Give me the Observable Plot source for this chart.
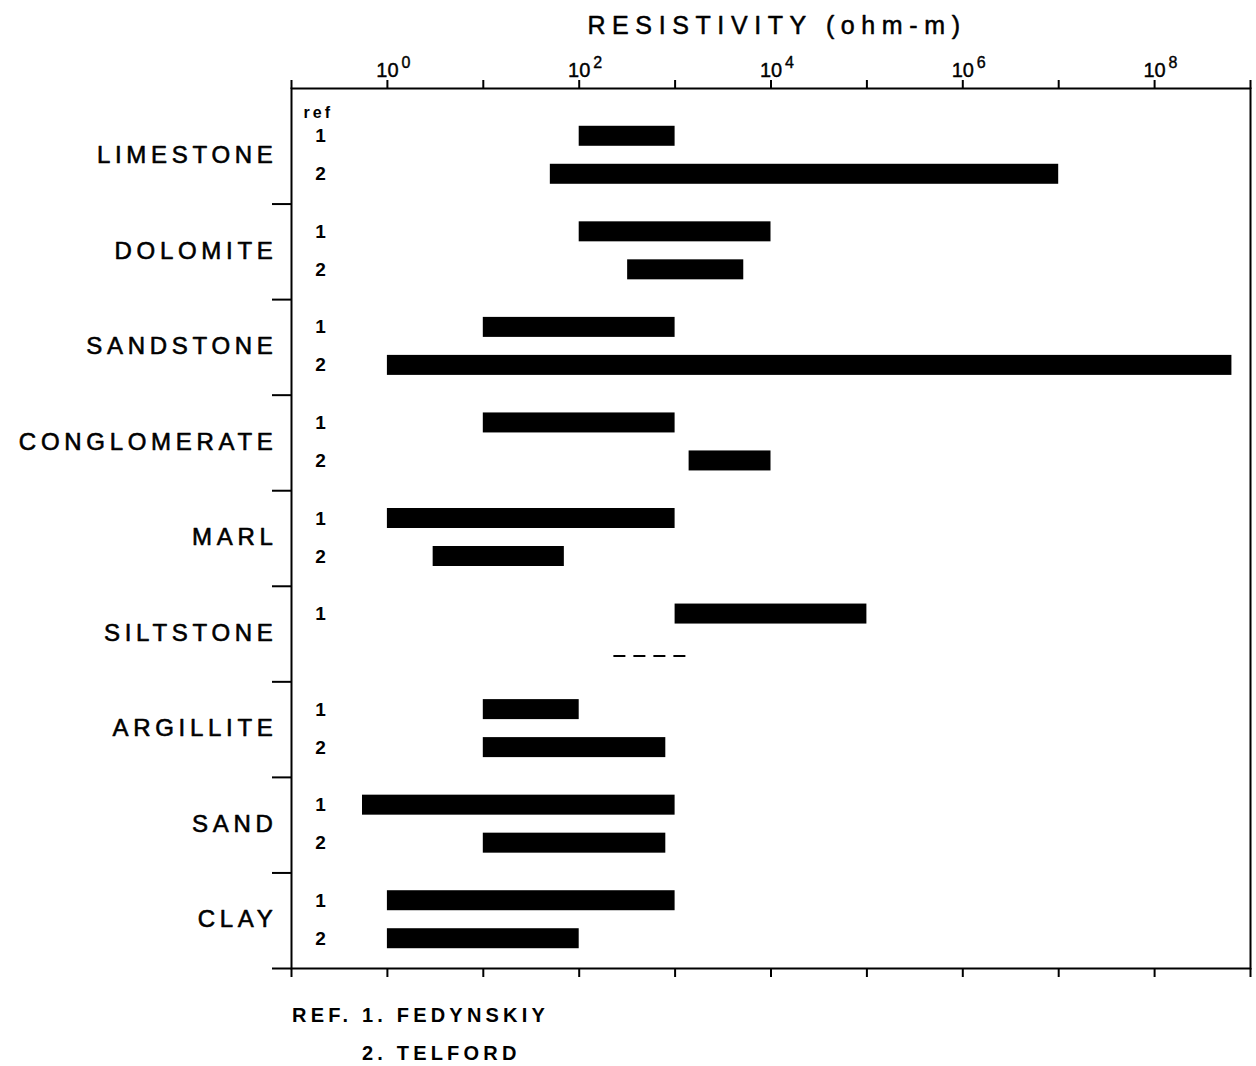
<!DOCTYPE html>
<html><head><meta charset="utf-8">
<script src="https://cdn.jsdelivr.net/npm/d3@7"></script>
<script src="https://cdn.jsdelivr.net/npm/@observablehq/plot@0.6"></script>
<style>
body{margin:0;background:#fff;}
#chart svg{display:block;}
#caption{font-family:"Liberation Sans",Arial,Helvetica,sans-serif;font-weight:bold;font-size:20px;letter-spacing:4.2px;line-height:38px;padding-top:6px;padding-left:292px;color:#000;}
#caption .ghost{visibility:hidden;}
</style></head>
<body><div id="chart"></div><div id="caption"></div>
<script>
// ---- data ----
const categories = ["LIMESTONE","DOLOMITE","SANDSTONE","CONGLOMERATE","MARL","SILTSTONE","ARGILLITE","SAND","CLAY"];
const ref1Low  = [100, 100, 10, 10, 1, 1000, 10, 0.55, 1];
const ref1High = [1000, 1e4, 1000, 1000, 1000, 1e5, 100, 1000, 1000];
const ref2Low  = [50, 320, 1, 1400, 3, null, 10, 10, 1];
const ref2High = [1e7, 5200, 6.4e8, 1e4, 70, null, 800, 800, 100];
const dashedCategory = ["SILTSTONE"];
const dashedLow = [230];
const dashedHigh = [1500];
const tickExponents = [-1,0,1,2,3,4,5,6,7,8,9];
const labelExponents = [0,2,4,6,8];
const titleText = "RESISTIVITY (ohm-m)";
const refHeader = "ref";
const captionPrefix = "REF.";
const refNames = ["FEDYNSKIY","TELFORD"];

// ---- tables ----
const rows = [];
categories.forEach((c,i)=>{
  rows.push({cat:c, ref:1, lo:ref1Low[i], hi:ref1High[i]});
  if (ref2Low[i] != null) rows.push({cat:c, ref:2, lo:ref2Low[i], hi:ref2High[i]});
});
const r1 = rows.filter(d=>d.ref===1);
const r2 = rows.filter(d=>d.ref===2);
const dashed = dashedCategory.map((c,i)=>({cat:c, lo:dashedLow[i], hi:dashedHigh[i]}));
const decadeTicks = tickExponents.map(e=>10**e);

const font = "'Liberation Sans', Arial, Helvetica, sans-serif";
const yTop = 108, yBottom = 968;
const step = (yBottom - yTop) / categories.length;
const barH = 20;
const inset = (step - barH) / 2;
const dy1 = -20, dy2 = 18;

const chart = Plot.plot({
  width: 1256, height: 990,
  marginTop: 88, marginBottom: 22, marginLeft: 291, marginRight: 6,
  style: {fontFamily: font, background: "white", color: "black"},
  x: {type: "log", domain: [1e-1, 1e9], label: null},
  y: {type: "band", domain: categories, range: [yTop, yBottom], padding: 0, round: false, label: null},
  marks: [
    Plot.frame({stroke: "black", strokeWidth: 2}),
    Plot.axisX({anchor: "top", ticks: decadeTicks, tickSize: 9, tickFormat: () => "", strokeWidth: 2, label: null}),
    Plot.axisX({anchor: "bottom", ticks: decadeTicks, tickSize: 9, tickFormat: () => "", strokeWidth: 2, label: null}),
    Plot.axisY({anchor: "left", ticks: categories, tickSize: 19, tickFormat: () => "", strokeWidth: 2, dy: step/2, label: null}),
    Plot.text(labelExponents, {x: e=>10**e, text: () => "10", frameAnchor: "top", lineAnchor: "bottom", dy: -12, fontSize: 20, fill: "black", stroke: "black", strokeWidth: 0.4}),
    Plot.text(labelExponents, {x: e=>10**e, text: e=>String(e), frameAnchor: "top", lineAnchor: "bottom", textAnchor: "start", dx: 14, dy: -21, fontSize: 16, fill: "black", stroke: "black", strokeWidth: 0.4}),
    Plot.text([titleText], {frameAnchor: "top", lineAnchor: "bottom", dy: -55, dx: 6, fontSize: 25, fill: "black", stroke: "black", strokeWidth: 0.5}),
    Plot.text([refHeader], {frameAnchor: "top-left", lineAnchor: "bottom", textAnchor: "start", dx: 12, dy: 29, fontSize: 16, fontWeight: "bold", fill: "black"}),
    Plot.text(categories, {y: d=>d, text: d=>d, frameAnchor: "left", textAnchor: "end", dx: -14, dy: -1, fontSize: 24, fill: "black", stroke: "black", strokeWidth: 0.6}),
    Plot.text(r1, {y: "cat", text: d=>String(d.ref), frameAnchor: "left", textAnchor: "middle", dx: 29, dy: dy1, fontSize: 19, fontWeight: "bold", fill: "black"}),
    Plot.text(r2, {y: "cat", text: d=>String(d.ref), frameAnchor: "left", textAnchor: "middle", dx: 29, dy: dy2, fontSize: 19, fontWeight: "bold", fill: "black"}),
    Plot.barX(r1, {x1: "lo", x2: "hi", y: "cat", insetTop: inset, insetBottom: inset, dy: dy1, fill: "black"}),
    Plot.barX(r2, {x1: "lo", x2: "hi", y: "cat", insetTop: inset, insetBottom: inset, dy: dy2, fill: "black"}),
    Plot.ruleY(dashed, {y: "cat", x1: "lo", x2: "hi", dy: 22, stroke: "black", strokeWidth: 2, strokeDasharray: "12,8"})
  ]
});
document.getElementById("chart").appendChild(chart);

// letter spacing for the wide-tracked lettering
const svgSel = d3.select(chart);
svgSel.selectAll("text").filter(function(){ return categories.includes(this.textContent); }).style("letter-spacing", "4.7px");
svgSel.selectAll("text").filter(function(){ return this.textContent === titleText; }).style("letter-spacing", "6.6px");
svgSel.selectAll("text").filter(function(){ return this.textContent === refHeader; }).style("letter-spacing", "3px");

const cap = document.getElementById("caption");
refNames.forEach((name, i) => {
  const line = document.createElement("div");
  const pre = document.createElement("span");
  pre.textContent = captionPrefix + " ";
  if (i > 0) pre.className = "ghost";
  line.appendChild(pre);
  line.appendChild(document.createTextNode((i+1) + ". " + name));
  cap.appendChild(line);
});
</script>
</body></html>
